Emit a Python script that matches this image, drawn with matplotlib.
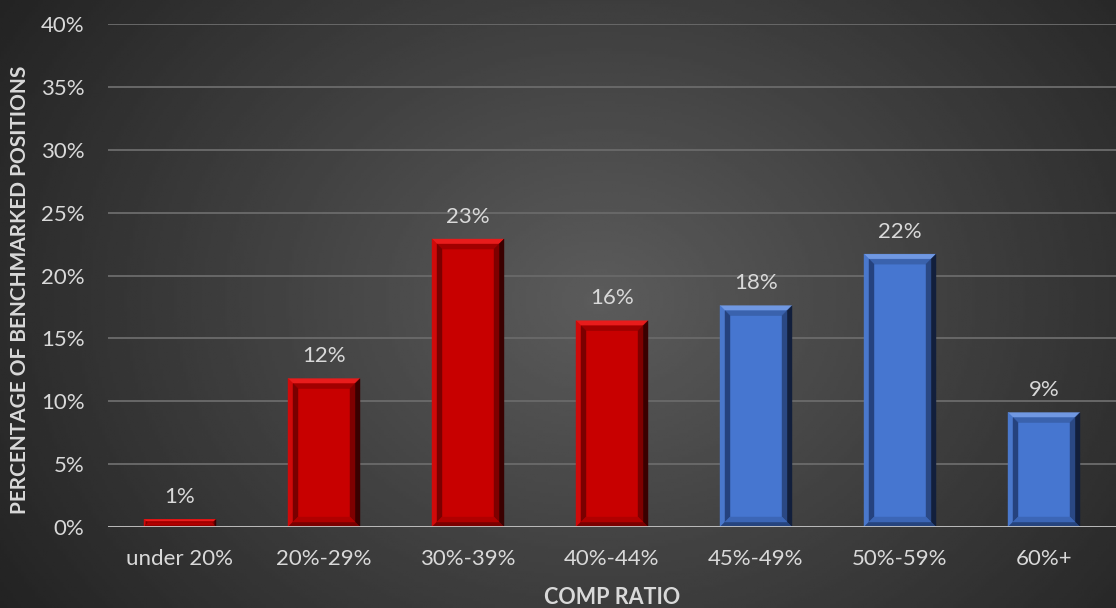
import numpy as np
import matplotlib
matplotlib.use('Agg')
import matplotlib.pyplot as plt
from matplotlib.patches import Polygon

categories = ['under 20%', '20%-29%', '30%-39%', '40%-44%', '45%-49%', '50%-59%', '60%+']
values = [0.6, 11.8, 22.9, 16.4, 17.6, 21.7, 9.1]
labels = ['1%', '12%', '23%', '16%', '18%', '22%', '9%']
groups = ['red', 'red', 'red', 'red', 'blue', 'blue', 'blue']
yticks = [0, 5, 10, 15, 20, 25, 30, 35, 40]

plt.rcParams['font.family'] = ['Lato', 'DejaVu Sans']

# face, then (outer, inner) colours for top, left, right, bottom bevels
PALETTE = {
	'red': {'face': '#c80000',
		'top': ('#e81c1c', '#a00000'), 'left': ('#d00a0a', '#7a0000'),
		'right': ('#3a0000', '#7e0000'), 'bottom': ('#7a0000', '#b00000')},
	'blue': {'face': '#4676d0',
		'top': ('#7098e2', '#3a62ad'), 'left': ('#4a78cc', '#25427e'),
		'right': ('#121f3c', '#2a4884'), 'bottom': ('#26447e', '#3c66b6')},
}
TEXT = '#d9d9d9'

fig = plt.figure(figsize=(11.16, 6.08), dpi=100)

# radial gradient background
bg = fig.add_axes([0, 0, 1, 1], zorder=-10)
gx, gy = np.meshgrid(np.linspace(0, 1116, 400), np.linspace(0, 608, 220))
r = np.sqrt(((gx - 600) / 700.0) ** 2 + ((gy - 300) / 560.0) ** 2)
shade = np.clip(0.36 - 0.22 * r, 0.12, 0.4)
bg.imshow(shade, cmap='gray', vmin=0, vmax=1, extent=[0, 1, 0, 1], aspect='auto')
bg.axis('off')

ax = fig.add_axes([108 / 1116, 81 / 608, 1 - 108 / 1116, 503 / 608])
ax.patch.set_alpha(0)
ax.set_xlim(-0.5, len(categories) - 0.5)
ax.set_ylim(0, 40)

for t in yticks[1:]:
	ax.axhline(t, color='#686868', lw=1.4, zorder=1)
ax.axhline(0, color='#c8c8c8', lw=2, zorder=4)

width = 0.5
bars = ax.bar(range(len(categories)), values, width=width,
	color=[PALETTE[g]['face'] for g in groups], zorder=2)

# bevel strip between two nested rectangles (a outer, b inner), pixel coords
def strip(side, x0, y0, x1, y1, a, b):
	if side == 'top':
		return [(x0 + a, y1 - a), (x1 - a, y1 - a), (x1 - b, y1 - b), (x0 + b, y1 - b)]
	if side == 'left':
		return [(x0 + a, y0 + a), (x0 + a, y1 - a), (x0 + b, y1 - b), (x0 + b, y0 + b)]
	if side == 'right':
		return [(x1 - a, y0 + a), (x1 - a, y1 - a), (x1 - b, y1 - b), (x1 - b, y0 + b)]
	return [(x0 + a, y0 + a), (x1 - a, y0 + a), (x1 - b, y0 + b), (x0 + b, y0 + b)]

fig.canvas.draw()
inv = ax.transData.inverted()
for bar, g in zip(bars, groups):
	pal = PALETTE[g]
	(x0, y0), (x1, y1) = ax.transData.transform([(bar.get_x(), 0), (bar.get_x() + bar.get_width(), bar.get_height())])
	k = min(10, (y1 - y0) / 2.0)
	for side in ['top', 'left', 'right', 'bottom']:
		outer, inner = pal[side]
		for (a, b), c in [((0, k * 0.5), outer), ((k * 0.5, k), inner)]:
			pts = strip(side, x0, y0, x1, y1, a, b)
			ax.add_patch(Polygon(inv.transform(pts), closed=True, facecolor=c, edgecolor=c, lw=0.3, zorder=3))

for i, (v, lab) in enumerate(zip(values, labels)):
	ax.annotate(lab, (i, v), xytext=(0, 9), textcoords='offset points',
		ha='center', va='bottom', color=TEXT, fontsize=16)

ax.set_yticks(yticks)
ax.set_yticklabels([f'{t}%' for t in yticks], color=TEXT, fontsize=16)
ax.set_xticks(range(len(categories)))
ax.set_xticklabels(categories, color=TEXT, fontsize=16)
ax.tick_params(length=0, pad=17)
ax.tick_params(axis='x', pad=16)
for s in ax.spines.values():
	s.set_visible(False)

fig.text(20 / 1116, 1 - 290 / 608, 'PERCENTAGE OF BENCHMARKED POSITIONS', rotation=90,
	ha='center', va='center', color=TEXT, fontsize=15, fontweight='bold')
fig.text(612 / 1116, 1 - 597 / 608, 'COMP RATIO', ha='center', va='center',
	color=TEXT, fontsize=15.5, fontweight='bold')

fig.savefig('out.png', dpi=100)
